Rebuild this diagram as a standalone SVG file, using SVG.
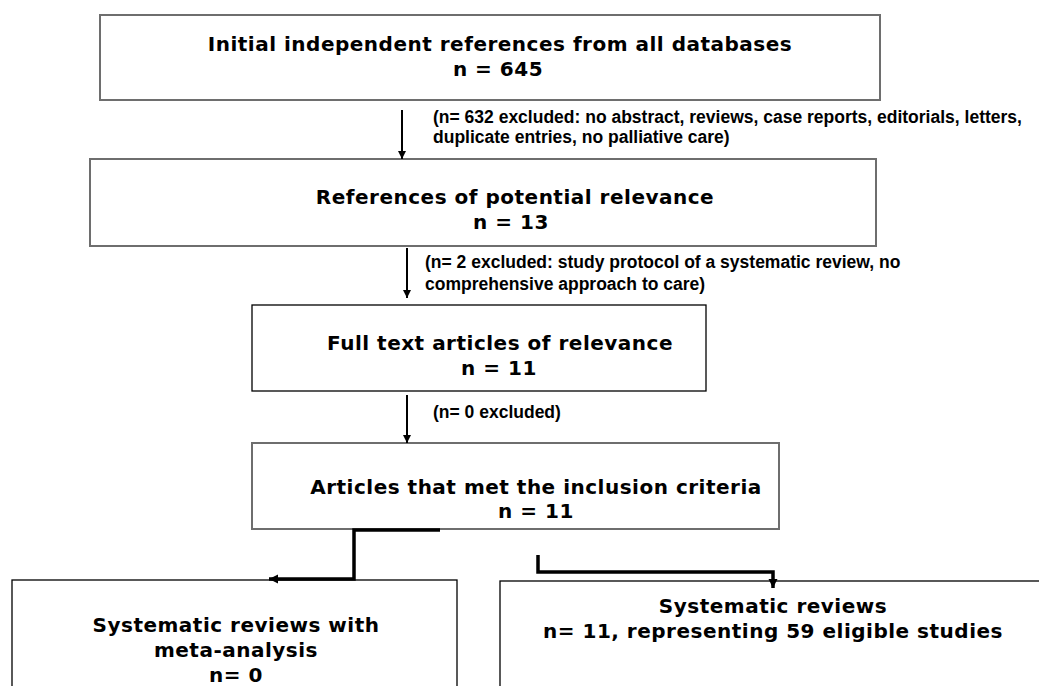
<svg xmlns="http://www.w3.org/2000/svg" width="1039" height="686" viewBox="0 0 1039 686">
<defs>
<style>
.box{fill:#fff;stroke:#000;stroke-width:1.3}
.gbox{fill:#fff;stroke:#6e6e6e;stroke-width:2}
.t{font-family:"DejaVu Sans",Verdana,sans-serif;font-weight:bold;font-size:20px;fill:#000;text-anchor:middle;letter-spacing:0.5px}
.l{font-family:"Liberation Sans",Arial,sans-serif;font-weight:bold;font-size:17.5px;fill:#000}
.c{fill:none;stroke:#000;stroke-width:2}
.ct{fill:none;stroke:#000;stroke-width:3.5}
</style>
<marker id="ah" viewBox="0 0 10 10" refX="10" refY="5" markerWidth="4" markerHeight="4" orient="auto" markerUnits="strokeWidth">
<path d="M0,0 L10,5 L0,10 z" fill="#000"/>
</marker>
<marker id="ah2" viewBox="0 0 10 10" refX="10" refY="5" markerWidth="2.6" markerHeight="2.6" orient="auto" markerUnits="strokeWidth">
<path d="M0,0 L10,5 L0,10 z" fill="#000"/>
</marker>
</defs>
<rect width="1039" height="686" fill="#fff"/>
<g id="node1">
<rect class="gbox" x="100" y="15" width="780" height="85"/>
<text class="t" x="500" y="51">Initial independent references from all databases</text>
<text class="t" x="498" y="76">n = 645</text>
</g>
<g id="node2">
<rect class="gbox" x="90" y="159" width="786" height="87"/>
<text class="t" x="515" y="204">References of potential relevance</text>
<text class="t" x="511" y="229">n = 13</text>
</g>
<g id="node3">
<rect class="box" x="252" y="305" width="454" height="86"/>
<text class="t" x="500" y="350">Full text articles of relevance</text>
<text class="t" x="499" y="375">n = 11</text>
</g>
<g id="node4">
<rect class="gbox" x="252" y="443" width="527" height="86"/>
<text class="t" x="536" y="494">Articles that met the inclusion criteria</text>
<text class="t" x="536" y="518">n = 11</text>
</g>
<g id="node5">
<rect class="box" x="12" y="580" width="445" height="120"/>
<text class="t" x="236" y="632">Systematic reviews with</text>
<text class="t" x="236" y="657">meta-analysis</text>
<text class="t" x="236" y="682">n= 0</text>
</g>
<g id="node6">
<rect class="box" x="500" y="581" width="560" height="120"/>
<text class="t" x="773" y="613">Systematic reviews</text>
<text class="t" x="773" y="638">n= 11, representing 59 eligible studies</text>
</g>
<g id="labels">
<text class="l" x="433" y="123">(n= 632 excluded: no abstract, reviews, case reports, editorials, letters,</text>
<text class="l" x="433" y="143">duplicate entries, no palliative care)</text>
<text class="l" x="425" y="268">(n= 2 excluded: study protocol of a systematic review, no</text>
<text class="l" x="425" y="290">comprehensive approach to care)</text>
<text class="l" x="433" y="418">(n= 0 excluded)</text>
</g>
<g id="connectors">
<line class="c" x1="402" y1="110" x2="402" y2="159" marker-end="url(#ah)"/>
<line class="c" x1="407" y1="248" x2="407" y2="298" marker-end="url(#ah)"/>
<line class="c" x1="407" y1="395" x2="407" y2="443" marker-end="url(#ah)"/>
<path class="ct" d="M440,530 H354 V579 H269" marker-end="url(#ah2)"/>
<path class="ct" d="M538,555 V572 H773 V588" marker-end="url(#ah2)"/>
</g>
</svg>
